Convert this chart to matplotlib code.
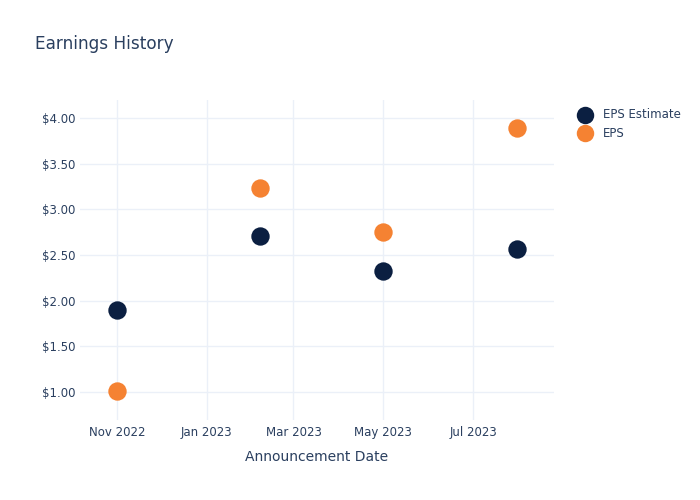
import pandas as pd
import matplotlib
matplotlib.use("Agg")
import matplotlib.pyplot as plt
import matplotlib.dates as mdates
from matplotlib.ticker import FuncFormatter

announce_dates = ["2022-11-01", "2023-02-06", "2023-05-01", "2023-07-31"]
eps_estimate = [1.90, 2.71, 2.32, 2.57]
eps_actual = [1.01, 3.23, 2.75, 3.89]
y_ticks = [1.00, 1.50, 2.00, 2.50, 3.00, 3.50, 4.00]
x_ticks = ["2022-11-01", "2023-01-01", "2023-03-01", "2023-05-01", "2023-07-01"]

TEXT = "#2a3f5f"
GRID = "#ebf0f8"
NAVY = "#0b1f41"
ORANGE = "#f58232"


def main():
    dates = pd.to_datetime(announce_dates)

    fig = plt.figure(figsize=(7, 5), dpi=100)
    ax = fig.add_axes([80 / 700, 80 / 500, 474 / 700, 320 / 500])

    ax.scatter(dates, eps_estimate, s=175, color=NAVY, label="EPS Estimate", zorder=3, linewidths=0)
    ax.scatter(dates, eps_actual, s=175, color=ORANGE, label="EPS", zorder=3, linewidths=0)

    ax.set_xlim(pd.Timestamp("2022-10-07"), pd.Timestamp("2023-08-25"))
    ax.set_ylim(0.693, 4.197)

    ax.set_xticks(pd.to_datetime(x_ticks))
    ax.xaxis.set_major_formatter(mdates.DateFormatter("%b %Y"))
    ax.set_yticks(y_ticks)
    ax.yaxis.set_major_formatter(FuncFormatter(lambda v, _: f"${v:.2f}"))

    ax.grid(True, color=GRID, linewidth=1)
    ax.set_axisbelow(True)
    for s in ax.spines.values():
        s.set_visible(False)
    ax.tick_params(length=0, labelsize=8.5, labelcolor=TEXT)
    ax.tick_params(axis="y", pad=3)
    ax.tick_params(axis="x", pad=4)

    ax.set_xlabel("Announcement Date", fontsize=10, color=TEXT, labelpad=8)

    fig.text(35 / 700, 1 - 44 / 500, "Earnings History", fontsize=12.2, color=TEXT, va="center", ha="left")

    leg = ax.legend(loc="upper left", bbox_to_anchor=(563 / 700, 1 - 97 / 500),
                    bbox_transform=fig.transFigure, frameon=False, fontsize=8.5,
                    labelspacing=0.5, handletextpad=0.5, markerscale=0.95)
    for t in leg.get_texts():
        t.set_color(TEXT)

    fig.savefig("out.png", dpi=100)


if __name__ == "__main__":
    main()
